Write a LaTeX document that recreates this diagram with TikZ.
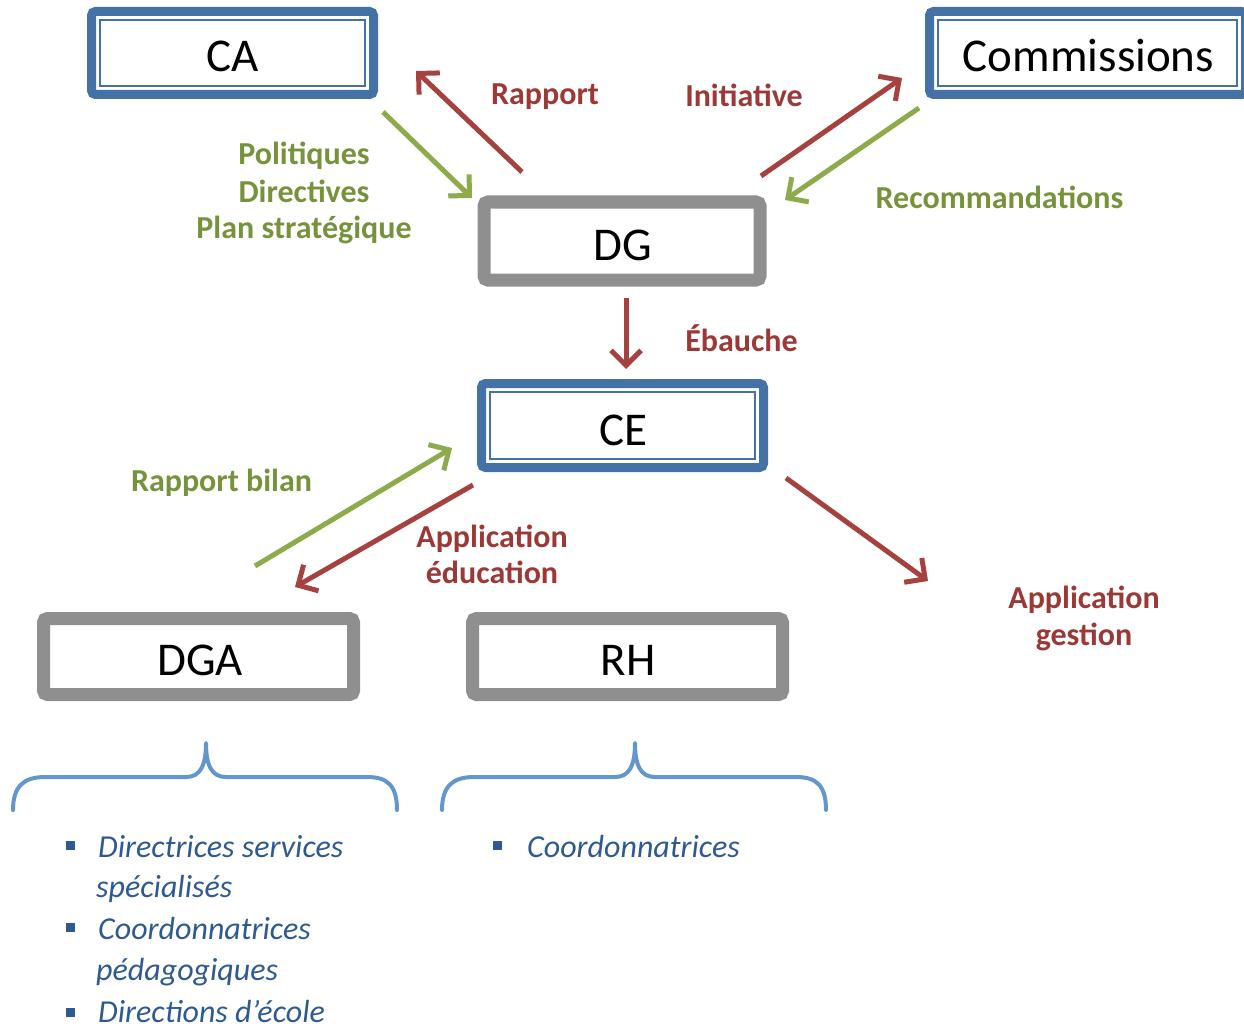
\documentclass[tikz,border=0pt]{standalone}
\usepackage{fontspec}
\setmainfont{Carlito}
\usetikzlibrary{arrows.meta}
\definecolor{boxblue}{HTML}{4471A6}
\definecolor{boxgray}{HTML}{8F8F8F}
\definecolor{arrred}{HTML}{A5423F}
\definecolor{txtred}{HTML}{9B3936}
\definecolor{arrgreen}{HTML}{8DAB4B}
\definecolor{txtgreen}{HTML}{76933C}
\definecolor{bracecol}{HTML}{6396CD}
\definecolor{listblue}{HTML}{2F5A91}
\tikzset{
  bluebox/.style={draw=boxblue, line width=9pt, rounded corners=4pt, fill=white,
    inner sep=0pt, outer sep=0pt},
  innerline/.style={draw=boxblue, line width=2pt},
  graybox/.style={draw=boxgray, line width=13pt, rounded corners=4pt, fill=white,
    inner sep=0pt, outer sep=0pt},
  boxtext/.style={font=\fontsize{47}{56}\selectfont, text=black, inner sep=0pt, anchor=base},
  redlbl/.style={font=\fontsize{32}{37}\selectfont\bfseries, text=txtred, inner sep=0pt, anchor=base},
  greenlbl/.style={font=\fontsize{32}{37}\selectfont\bfseries, text=txtgreen, inner sep=0pt, anchor=base},
  redarr/.style={draw=arrred, line width=5pt, -{Straight Barb[length=15pt,width=30pt,line width=5pt]}},
  greenarr/.style={draw=arrgreen, line width=5pt, -{Straight Barb[length=15pt,width=30pt,line width=5pt]}},
  bracket/.style={draw=bracecol, line width=4pt, line cap=round, line join=round},
  listtext/.style={font=\fontsize{32}{40}\selectfont\itshape, text=listblue, inner sep=0pt, anchor=base west},
  bulletsq/.style={fill=listblue, minimum size=9pt, inner sep=0pt},
}
\begin{document}
\begin{tikzpicture}[x=1pt,y=-1pt]
\useasboundingbox (0,0) rectangle (1244,1027);

% boxes
\node[bluebox, minimum width=282pt, minimum height=83pt] (CA) at (232.5,53) {};
\draw[innerline] ([shift={(8.5,8.5)}]CA.north west) rectangle ([shift={(-8.5,-8.5)}]CA.south east);
\node[bluebox, minimum width=316pt, minimum height=83pt] (COM) at (1087.5,53) {};
\draw[innerline] ([shift={(8.5,8.5)}]COM.north west) rectangle ([shift={(-8.5,-8.5)}]COM.south east);
\node[graybox, minimum width=276pt, minimum height=78pt] (DG) at (622,241) {};
\node[bluebox, minimum width=282pt, minimum height=84pt] (CE) at (622.5,425.5) {};
\draw[innerline] ([shift={(8.5,8.5)}]CE.north west) rectangle ([shift={(-8.5,-8.5)}]CE.south east);
\node[graybox, minimum width=310pt, minimum height=76pt] (DGA) at (198.5,656.5) {};
\node[graybox, minimum width=310pt, minimum height=76pt] (RH) at (627.5,656.5) {};

% box texts
\node[boxtext] (tCA) at (233,72) {CA};
\node[boxtext] (tCOM) at (1088.5,72) {Commissions};
\node[boxtext] (tDG) at (623,260) {DG};
\node[boxtext] (tCE) at (623,445) {CE};
\node[boxtext] (tDGA) at (200,675) {DGA};
\node[boxtext] (tRH) at (628,675) {RH};

% arrow end points
\coordinate (a1s) at (522,172); \coordinate (a1e) at (416,71);
\coordinate (a2s) at (383,112); \coordinate (a2e) at (472,198);
\coordinate (a3s) at (761,176); \coordinate (a3e) at (902,78);
\coordinate (a4s) at (919,108); \coordinate (a4e) at (785,200);
\coordinate (a5s) at (626,298); \coordinate (a5e) at (626,369);
\coordinate (a6s) at (255,566); \coordinate (a6e) at (452,448);
\coordinate (a7s) at (473,485); \coordinate (a7e) at (295,587);
\coordinate (a8s) at (786,478); \coordinate (a8e) at (928,581);

\draw[redarr] (a1s) -- (a1e);
\draw[greenarr] (a2s) -- (a2e);
\draw[redarr] (a3s) -- (a3e);
\draw[greenarr] (a4s) -- (a4e);
\draw[redarr] (a5s) -- (a5e);
\draw[greenarr] (a6s) -- (a6e);
\draw[redarr] (a7s) -- (a7e);
\draw[redarr] (a8s) -- (a8e);

% labels
\node[redlbl] (lRapport) at (545,105) {Rapport};
\node[redlbl] (lInit) at (744,107) {Initiative};
\node[greenlbl] (lPol) at (304,165) {Politiques};
\node[greenlbl] (lDir) at (304,202) {Directives};
\node[greenlbl] (lPlan) at (304,238) {Plan stratégique};
\node[greenlbl] (lReco) at (999.5,208) {Recommandations};
\node[redlbl] (lEb) at (741.5,351) {Ébauche};
\node[greenlbl] (lRB) at (221.5,491) {Rapport bilan};
\node[redlbl] (lApp1) at (492,547) {Application};
\node[redlbl] (lEdu) at (492,583) {éducation};
\node[redlbl] (lApp2) at (1084,608) {Application};
\node[redlbl] (lGest) at (1084,645) {gestion};

% braces
\draw[bracket] (13,810) .. controls (13,786) and (24,777) .. (45,777) -- (186,777)
  .. controls (200,777) and (206,766) .. (206,743)
  .. controls (206,766) and (212,777) .. (226,777) -- (367,777)
  .. controls (388,777) and (397,786) .. (397,810);
\draw[bracket] (442,810) .. controls (442,786) and (453,777) .. (474,777) -- (615,777)
  .. controls (629,777) and (635,766) .. (635,743)
  .. controls (635,766) and (641,777) .. (655,777) -- (796,777)
  .. controls (817,777) and (826,786) .. (826,810);

% lists
\node[bulletsq] (b1) at (70,845) {};
\node[bulletsq] (b2) at (70,927) {};
\node[bulletsq] (b3) at (70,1012) {};
\node[bulletsq] (b4) at (497,845) {};
\node[listtext] (i1) at (98,857) {Directrices services};
\node[listtext] (i1b) at (96,897) {spécialisés};
\node[listtext] (i2) at (98,939) {Coordonnatrices};
\node[listtext] (i2b) at (96,980) {pédagogiques};
\node[listtext] (i3) at (98,1022) {Directions d’école};
\node[listtext] (i4) at (527,857) {Coordonnatrices};
\end{tikzpicture}
\end{document}
